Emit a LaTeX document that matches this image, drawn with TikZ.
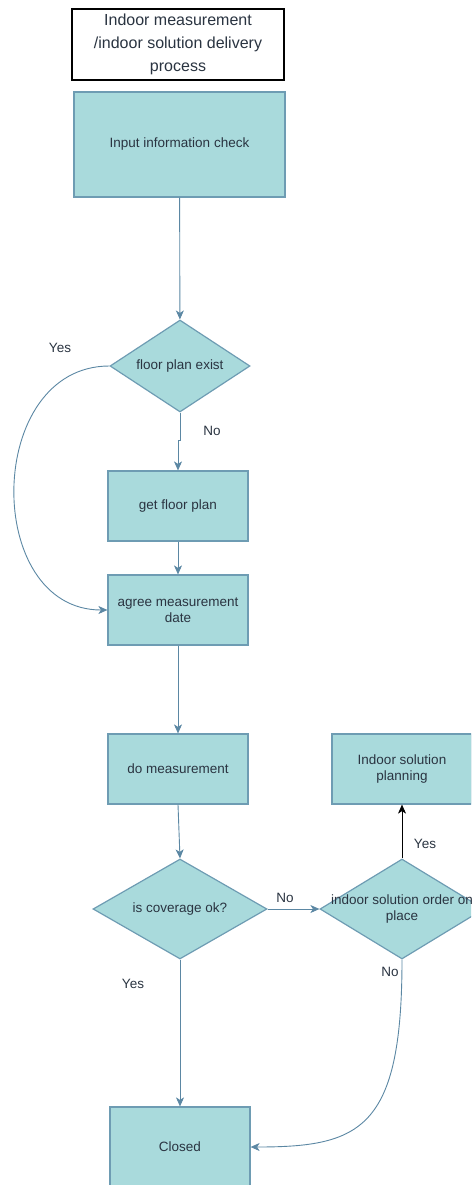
\documentclass[tikz,border=0pt]{standalone}
\usepackage{fontspec}
\setmainfont{Liberation Sans}
\usetikzlibrary{arrows.meta,shapes.geometric}

\definecolor{boxfill}{HTML}{A9DADC}
\definecolor{boxline}{HTML}{6E9CB3}
\definecolor{flowline}{HTML}{5B87A3}
\definecolor{txt}{HTML}{2A3441}

\begin{document}
\begin{tikzpicture}[x=1pt,y=-1pt]

  \tikzstyle{process}=[draw=boxline,line width=1.2pt,fill=boxfill,text=txt,font=\fontsize{13.5}{16}\selectfont,align=center,minimum width=140pt,minimum height=70pt,inner sep=2pt]
  \tikzstyle{decision}=[diamond,draw=boxline,line width=1.2pt,fill=boxfill,inner sep=0pt]
  \tikzstyle{flow}=[draw=flowline,line width=0.9pt,-{Stealth[length=9pt,width=8pt,inset=2.5pt]}]
  \tikzstyle{answer}=[text=txt,font=\fontsize{13.5}{16}\selectfont]

  % ====================
  % Frame
  % ====================
  \useasboundingbox (0,0) rectangle (471,1185);
  \clip (0,0) rectangle (471,1185);

  % ====================
  % Boxes
  % ====================
  \node (title) [draw=black,line width=1.2pt,fill=white,text=txt,align=center,font=\fontsize{16}{23}\selectfont,minimum width=212pt,minimum height=71pt,inner sep=0pt] at (178,44.5) {Indoor measurement\\/indoor solution delivery\\process};
  \node (check) [process,minimum width=211pt,minimum height=105pt] at (179.5,144.5) {Input information check};
  \node (exist) [decision,minimum width=140pt,minimum height=92pt,label={[answer]center:floor plan exist}] at (180,366) {};
  \node (getfp) [process] at (178,506) {get floor plan};
  \node (agree) [process] at (178,610) {agree measurement\\date};
  \node (domeas) [process] at (178,769) {do measurement};
  \node (cover) [decision,minimum width=174pt,minimum height=100pt,label={[answer]center:is coverage ok?}] at (180,909) {};
  \node (order) [decision,minimum width=164pt,minimum height=100pt,label={[answer,align=center]center:indoor solution order on\\place}] at (402,909) {};
  \node (plan) [process] at (402,769) {Indoor solution\\planning};
  \node (closed) [process,minimum height=80pt] at (180,1147) {Closed};

  % ====================
  % Connectors
  % ====================
  \draw[flow] (check) -- (exist);
  \draw[flow] (exist.south) -- ++(0,28) -| (getfp.north);
  \draw[flow] (exist.west) .. controls +(-125,0) and +(-125,0) .. (agree.west);
  \draw[flow] (getfp) -- (agree);
  \draw[flow] (agree) -- (domeas);
  \draw[flow] (domeas.south) -- (cover.north);
  \draw[flow] (cover.east) -- (order.west);
  \draw[flow] (cover.south) -- (closed.north);
  \draw[flow,draw=black] (order.north) -- (plan.south);
  \draw[flow] (order.south) .. controls +(0,170) and +(110,0) .. (closed.east);

  % Labels
  \node (yesexist) [answer] at (60,348) {Yes};
  \node (noexist) [answer] at (212,431) {No};
  \node (nocover) [answer] at (285,898) {No};
  \node (yescover) [answer] at (133,984) {Yes};
  \node (yesorder) [answer] at (425,844) {Yes};
  \node (noorder) [answer] at (390,972) {No};
\end{tikzpicture}
\end{document}
